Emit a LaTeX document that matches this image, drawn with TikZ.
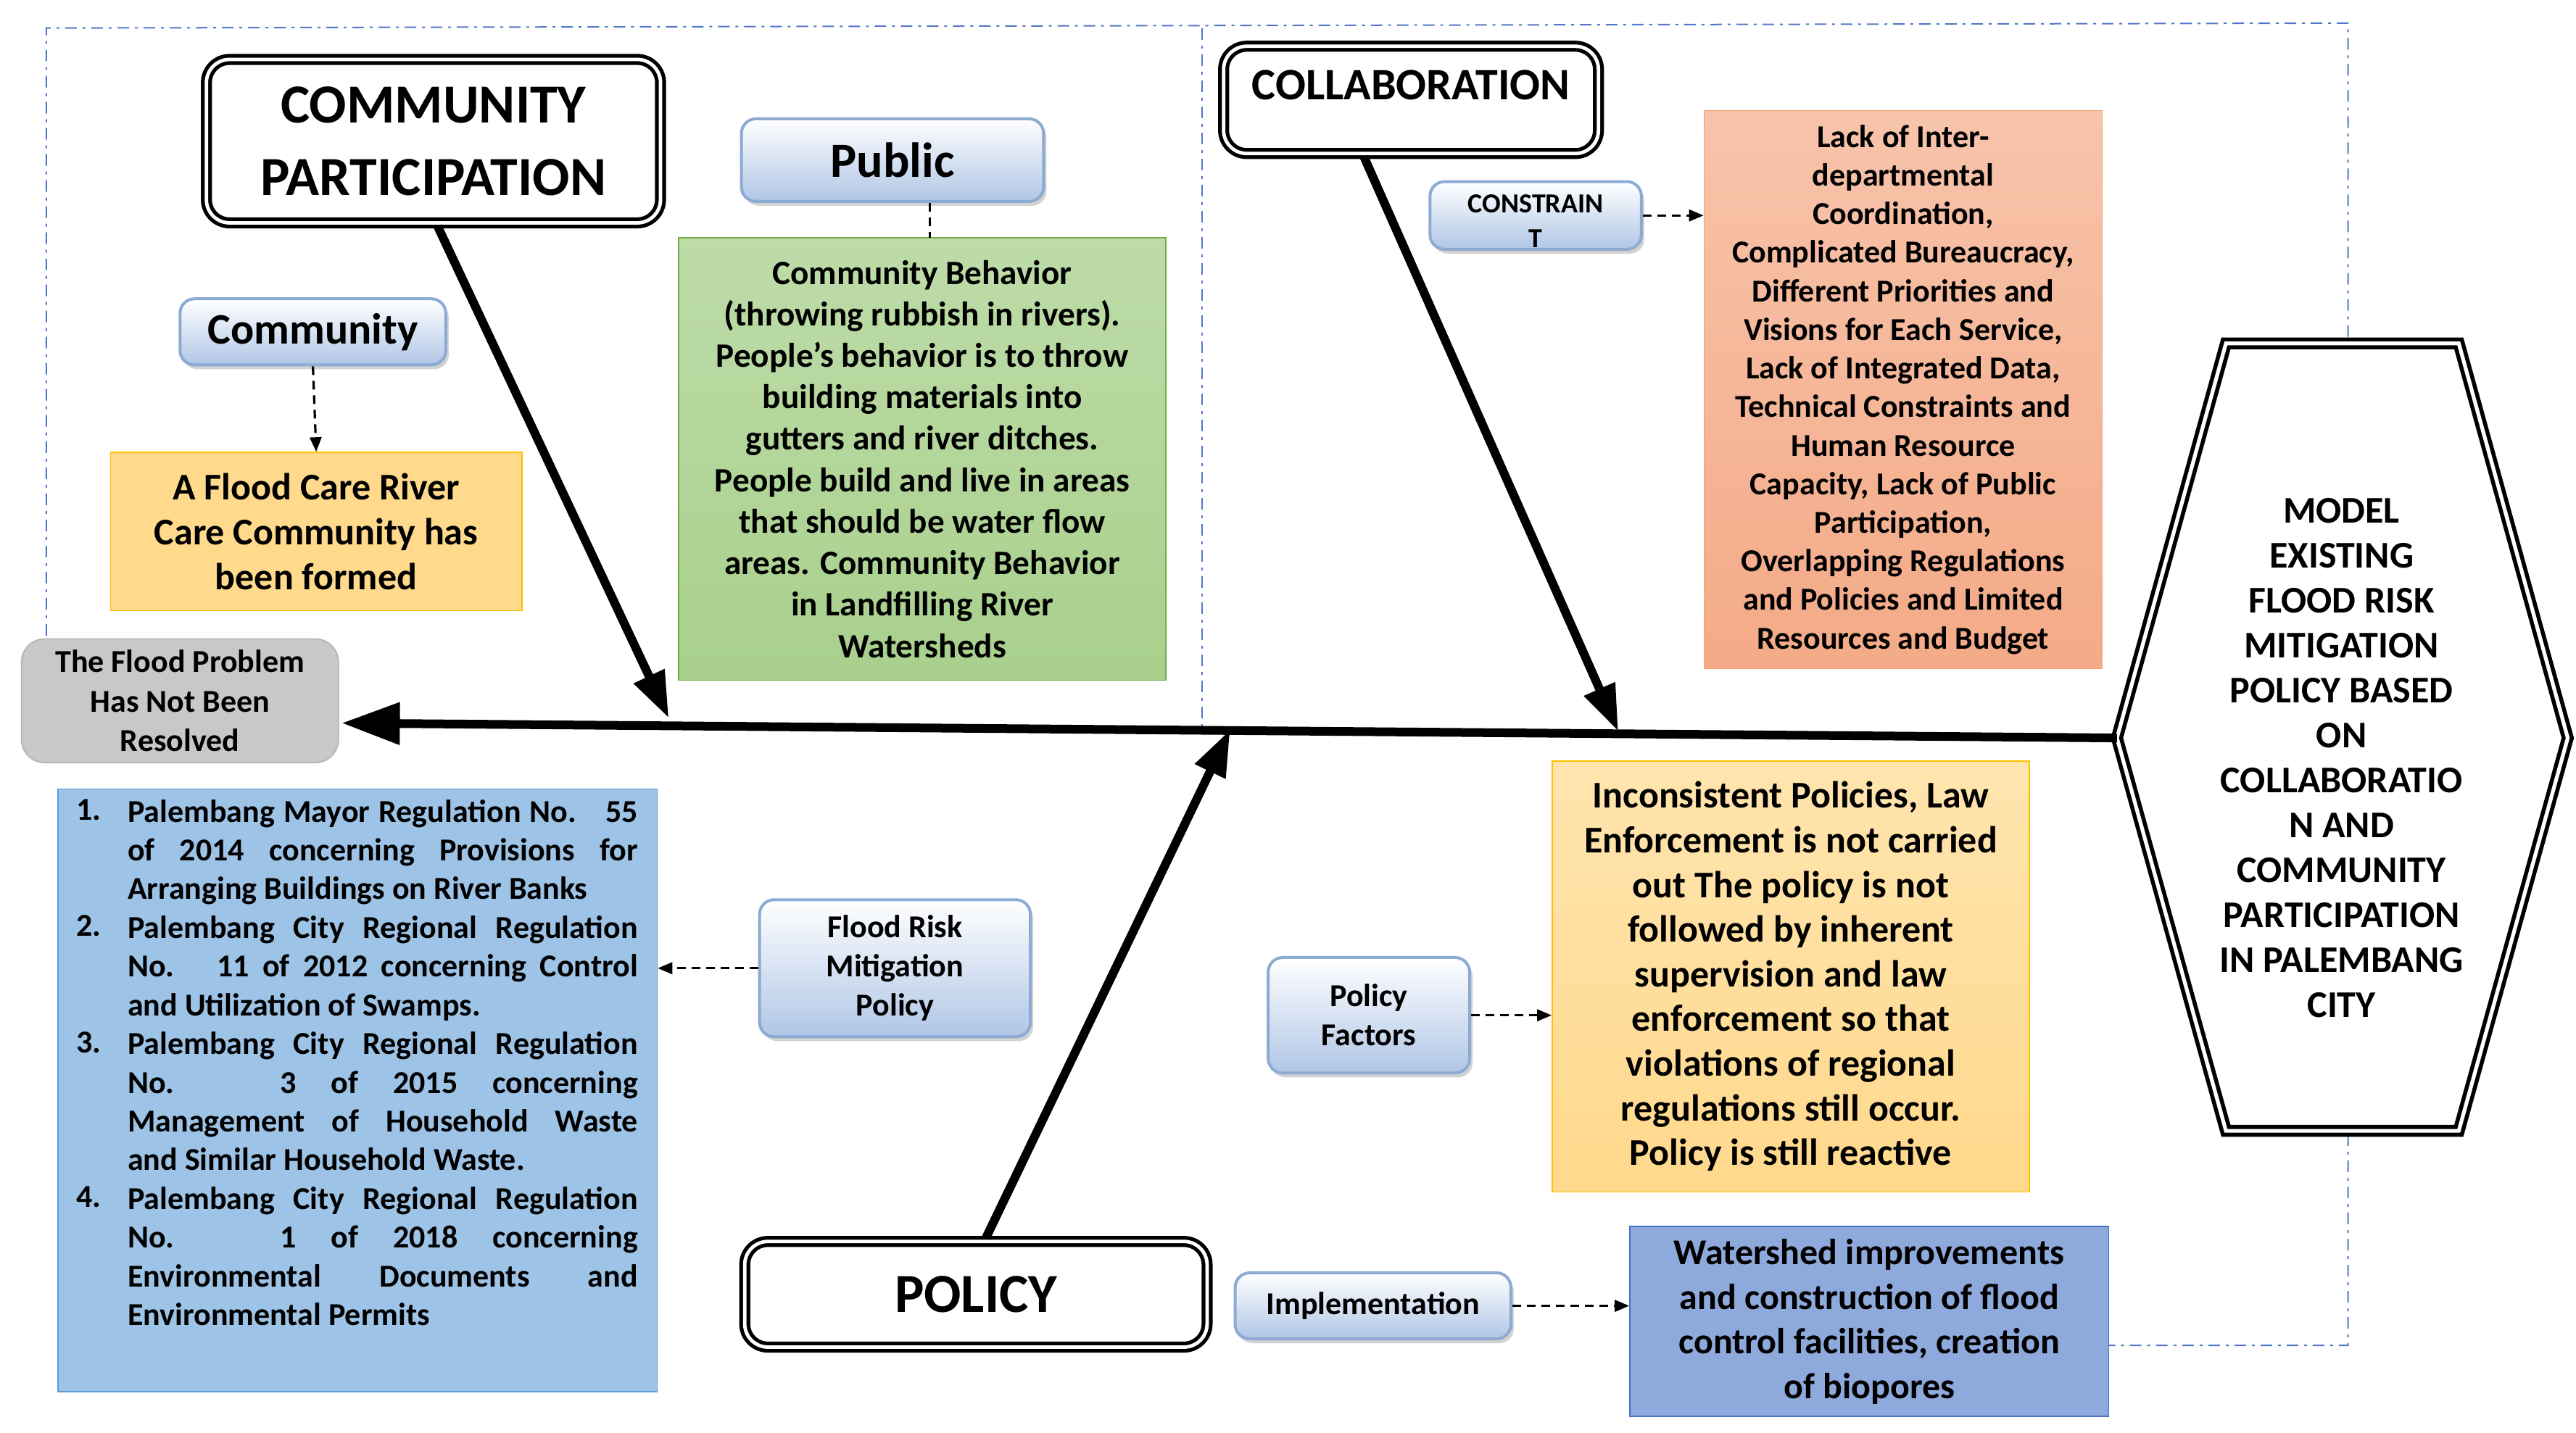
\documentclass[tikz,border=0pt]{standalone}
\usepackage{fontspec}
\setmainfont{Carlito}
\usetikzlibrary{fit,arrows.meta,shadows}
\definecolor{bbord}{RGB}{140,170,210}
\definecolor{bbot}{RGB}{176,198,230}
\definecolor{dashb}{RGB}{80,120,200}
\definecolor{ofill}{RGB}{255,217,140}
\definecolor{oedge}{RGB}{255,192,0}
\definecolor{gfill}{RGB}{168,208,140}
\definecolor{gedge}{RGB}{112,173,71}
\definecolor{rfill}{RGB}{244,170,135}
\definecolor{redge}{RGB}{237,125,49}
\definecolor{lfill}{RGB}{157,195,230}
\definecolor{ledge}{RGB}{91,155,213}
\definecolor{pfill}{RGB}{142,169,219}
\definecolor{pedge}{RGB}{68,114,196}
\definecolor{grfill}{RGB}{200,200,200}
\newdimen\lw \lw=6.18cm
\def\jl#1{\hbox to \lw{\spaceskip=0pt plus 1fil #1}}
\tikzset{
  fb/.style={inner sep=0pt},
  tx/.style={inner sep=0pt,align=center},
  btn/.style={fb,draw=bbord,line width=1pt,rounded corners=5pt,top color=white,bottom color=bbot,drop shadow={shadow xshift=1pt,shadow yshift=-1.5pt,fill=gray!70}},
  title/.style={fb,draw=black,line width=1.3pt,double=white,double distance=1.2pt,rounded corners=8pt,fill=white},
  dsh/.style={densely dashed,line width=0.8pt,-{Triangle[length=5pt,width=4pt]}},
  bone/.style={line width=3pt,-{Triangle[length=16pt,width=11pt]}},
  frame/.style={dashb,dash pattern=on 4pt off 2pt on 1pt off 2pt,line width=0.5pt}
}
\begin{document}
\begin{tikzpicture}[x=0.02cm,y=-0.02cm]
\useasboundingbox (0,0) rectangle (1560,868);
% frame
\draw[frame] (28,385) -- (28,17) -- (1422,14) -- (1422,815) -- (1270,815);
\draw[frame] (728,17) -- (728,440);
% top-left
\node[title,fit={(125,36)(400,135)}] (cp) {};
\node[tx,font=\bfseries\fontsize{19}{25}\selectfont] at (cp.center) {COMMUNITY\\PARTICIPATION};
\node[btn,fit={(449,72)(632,122)}] (pub) {};
\node[tx,font=\bfseries\fontsize{17}{20}\selectfont] at (pub.center) {Public};
\node[btn,fit={(109,181)(270,221)}] (com) {};
\node[tx,font=\bfseries\fontsize{15}{18}\selectfont] at (com.center) {Community};
\node[fb,draw=oedge,fill=ofill,fit={(67,274)(316,370)}] (fc) {};
\node[tx,font=\bfseries\fontsize{13}{15.4}\selectfont] at (fc.center) {A Flood Care River\\Care Community has\\been formed};
\node[fb,draw=gedge,top color=gfill!75,bottom color=gfill,fit={(411,144)(706,412)}] (grn) {};
\node[tx,font=\bfseries\fontsize{11.8}{14.3}\selectfont] at (grn.center) {Community Behavior\\(throwing rubbish in rivers).\\People's behavior is to throw\\building materials into\\gutters and river ditches.\\People build and live in areas\\that should be water flow\\areas. Community Behavior\\in Landfilling River\\Watersheds};
\node[fb,draw=gray!60,fill=grfill,rounded corners=8pt,fit={(13,387)(205,462)}] (gry) {};
\node[tx,font=\bfseries\fontsize{11}{13.6}\selectfont] at (gry.center) {The Flood Problem\\Has Not Been\\Resolved};
% collaboration
\node[title,fit={(741,28)(968,93)}] (col) {};
\node[tx,font=\bfseries\fontsize{15.5}{18}\selectfont] at ([yshift=5pt]col.center) {COLLABORATION};
\node[btn,fit={(866,110)(994,151)}] (con) {};
\node[tx,font=\bfseries\fontsize{9.5}{12}\selectfont] at ([yshift=-2pt]con.center) {CONSTRAIN\\T};
\node[fb,draw=redge!70,top color=rfill!70,bottom color=rfill,fit={(1032,67)(1273,405)}] (red) {};
\node[tx,font=\bfseries\fontsize{11}{13.3}\selectfont] at (red.center) {Lack of Inter-\\departmental\\Coordination,\\Complicated Bureaucracy,\\Different Priorities and\\Visions for Each Service,\\Lack of Integrated Data,\\Technical Constraints and\\Human Resource\\Capacity, Lack of Public\\Participation,\\Overlapping Regulations\\and Policies and Limited\\Resources and Budget};
% hexagon
\draw[line width=1.4pt,double=white,double distance=1.3pt,fill=white] (1348,208) -- (1489,208) -- (1555,447) -- (1489,685) -- (1348,685) -- (1282,447) -- cycle;
\coordinate (hexL) at (1282,447);
\node[tx,font=\bfseries\fontsize{13}{15.5}\selectfont] (hex) at (1418,459) {MODEL\\EXISTING\\FLOOD RISK\\MITIGATION\\POLICY BASED\\ON\\COLLABORATIO\\N AND\\COMMUNITY\\PARTICIPATION\\IN PALEMBANG\\CITY};
% bottom
\node[draw=ledge,fill=lfill,inner sep=0pt,fit={(35,478)(398,843)}] (lst) {};
\node[anchor=north west,inner sep=0pt,font=\bfseries\fontsize{11}{13.35}\selectfont] at (46,484) {\vbox{\baselineskip=13.35pt
\hbox{1.}\hbox{}\hbox{}\hbox{2.}\hbox{}\hbox{}\hbox{3.}\hbox{}\hbox{}\hbox{}\hbox{4.}}};
\node[anchor=north west,inner sep=0pt,font=\bfseries\fontsize{11}{13.35}\selectfont] at (77,484) {\vbox{\hsize=\lw\baselineskip=13.35pt
\jl{Palembang Mayor Regulation No. 55}\jl{of 2014 concerning Provisions for}\hbox{Arranging Buildings on River Banks}%
\jl{Palembang City Regional Regulation}\jl{No. 11 of 2012 concerning Control}\hbox{and Utilization of Swamps.}%
\jl{Palembang City Regional Regulation}\jl{No. 3 of 2015 concerning}\jl{Management of Household Waste}\hbox{and Similar Household Waste.}%
\jl{Palembang City Regional Regulation}\jl{No. 1 of 2018 concerning}\jl{Environmental Documents and}\hbox{Environmental Permits}}};
\node[btn,fit={(460,545)(624,628)}] (frm) {};
\node[tx,font=\bfseries\fontsize{11}{13.5}\selectfont] at (frm.center) {Flood Risk\\Mitigation\\Policy};
\node[btn,fit={(768,580)(890,650)}] (pf) {};
\node[tx,font=\bfseries\fontsize{11}{13.5}\selectfont] at (pf.center) {Policy\\Factors};
\node[fb,draw=oedge,top color=ofill!70,bottom color=ofill,fit={(940,461)(1229,722)}] (yel) {};
\node[tx,font=\bfseries\fontsize{13}{15.4}\selectfont] at (yel.center) {Inconsistent Policies, Law\\Enforcement is not carried\\out The policy is not\\followed by inherent\\supervision and law\\enforcement so that\\violations of regional\\regulations still occur.\\Policy is still reactive};
\node[title,fit={(451,752)(731,816)}] (pol) {};
\node[tx,font=\bfseries\fontsize{19}{22}\selectfont] at (pol.center) {POLICY};
\node[btn,fit={(748,771)(915,811)}] (imp) {};
\node[tx,font=\bfseries\fontsize{11}{13}\selectfont] at (imp.center) {Implementation};
\node[fb,draw=pedge,fill=pfill,fit={(987,743)(1277,858)}] (pur) {};
\node[tx,font=\bfseries\fontsize{12.5}{15.4}\selectfont] at (pur.center) {Watershed improvements\\and construction of flood\\control facilities, creation\\of biopores};
% spine and bones
\coordinate (spL) at (207,438);
\draw[line width=3pt,-{Triangle[length=20pt,width=14pt]}] (hexL) -- (spL);
\coordinate (cpEnd) at (405,435);
\coordinate (colEnd) at (980,443);
\coordinate (polEnd) at (745,442);
\draw[bone] (265,137) -- (cpEnd);
\draw[bone] (826,95) -- (colEnd);
\draw[bone] (597,750) -- (polEnd);
% dashed connectors
\draw[dsh] (com.south) -- (fc.north);
\draw[densely dashed,line width=0.8pt] (pub.south -| 563,0) -- (563,144);
\draw[dsh] (con.east) -- (red.west |- con.east);
\draw[dsh] (frm.west) -- (lst.east |- frm.west);
\draw[dsh] (pf.east) -- (yel.west |- pf.east);
\draw[dsh] (imp.east) -- (pur.west |- imp.east);
\end{tikzpicture}
\end{document}
